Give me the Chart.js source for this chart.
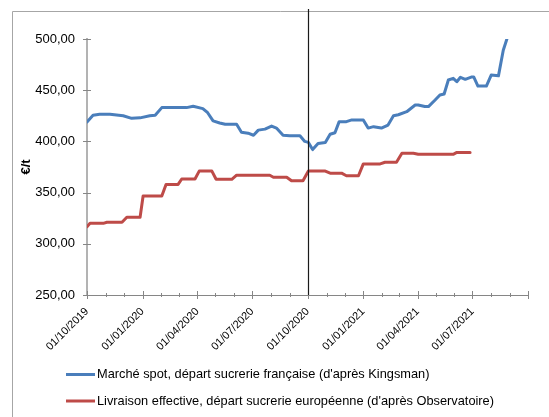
<!DOCTYPE html>
<html><head><meta charset="utf-8">
<script src="https://cdn.jsdelivr.net/npm/chart.js@4"></script>
<style>html,body{margin:0;padding:0;background:#fff}#wrap{width:549px;height:417px;position:relative}</style>
</head><body><div id="wrap"><canvas id="c" width="549" height="417"></canvas></div>
<script>
const seriesNames = [
  "Marché spot, départ sucrerie française (d'après Kingsman)",
  "Livraison effective, départ sucrerie européenne (d'après Observatoire)"
];
const seriesColors = ['#4A7EBB', '#BE4B48'];

const blueDates = ['2019-10-01','2019-10-11','2019-10-22','2019-11-08','2019-11-30','2019-12-14','2019-12-28',
  '2020-01-13','2020-01-22','2020-02-02','2020-03-14','2020-03-25','2020-04-10','2020-04-18','2020-04-27',
  '2020-05-08','2020-05-17','2020-06-05','2020-06-13','2020-06-24','2020-07-03','2020-07-11','2020-07-22',
  '2020-08-02','2020-08-10','2020-08-21','2020-09-01','2020-09-18','2020-09-26','2020-10-02','2020-10-09',
  '2020-10-18','2020-10-30','2020-11-07','2020-11-15','2020-11-22','2020-12-04','2020-12-13','2021-01-01',
  '2021-01-09','2021-01-18','2021-01-31','2021-02-11','2021-02-20','2021-02-28','2021-03-14','2021-03-28',
  '2021-04-02','2021-04-13','2021-04-19','2021-04-30','2021-05-08','2021-05-15','2021-05-22','2021-05-30',
  '2021-06-05','2021-06-11','2021-06-19','2021-06-30','2021-07-03','2021-07-10','2021-07-24','2021-08-01',
  '2021-08-13','2021-08-21','2021-08-27'];
const blueValues = [419,425.5,426.5,426.5,425,422.5,423,
  425,425.5,433,433,434.3,432,428,420,
  418,416.7,416.7,409,408,406,411,412,
  415,413,406,405.5,405.5,400,399,392,
  398,399,407,408.5,419.3,419.3,421,421,
  413,414.4,413,416,425,426,429,435.5,
  435.5,434,434,440.4,445.3,446.3,460,461.6,
  458.3,462.6,460.6,463,463,454,454,464.8,
  464,489,500];

const redDates = ['2019-10-01','2019-10-06','2019-10-28','2019-11-03','2019-11-28','2019-12-06','2019-12-28',
  '2020-01-02','2020-02-02','2020-02-09','2020-02-29','2020-03-06','2020-03-28','2020-04-04','2020-04-25',
  '2020-05-02','2020-05-28','2020-06-05','2020-07-30','2020-08-05','2020-08-27','2020-09-04','2020-09-23',
  '2020-10-02','2020-10-30','2020-11-07','2020-11-26','2020-12-04','2020-12-24','2021-01-01','2021-01-29',
  '2021-02-06','2021-02-25','2021-03-06','2021-03-25','2021-04-02','2021-05-30','2021-06-05','2021-06-27'];
const redValues = [316.7,320,320,321,321,326,326,
  346.7,346.7,358,358,363.3,363.3,371,371,
  363,363,367,367,365,365,361.5,361.5,
  371,371,369,369,366.5,366.5,378,378,
  379.6,379.6,388.4,388.4,387.4,387.4,389.2,389.2];

const xTickLabels = ['01/10/2019','01/01/2020','01/04/2020','01/07/2020','01/10/2020','01/01/2021','01/04/2021','01/07/2021'];
const yTickValues = [250,300,350,400,450,500];
const markerDate = '01/10/2020';
const axisStart = '01/10/2019';
const axisEnd = '01/10/2021';

function isoDay(s){ return Date.parse(s + 'T00:00:00Z'); }
function frDay(s){ const p = s.split('/'); return isoDay(p[2]+'-'+p[1]+'-'+p[0]); }
const t0 = frDay(axisStart);
const dayOf = ms => Math.round((ms - t0) / 86400000);

// monthly ticks from axisStart to axisEnd
const monthTicks = [];
{
  let d = new Date(t0);
  const end = frDay(axisEnd);
  while (d.getTime() <= end) {
    monthTicks.push(dayOf(d.getTime()));
    d = new Date(Date.UTC(d.getUTCFullYear(), d.getUTCMonth() + 1, 1));
  }
}
const majorDays = xTickLabels.map(s => dayOf(frDay(s)));

const blueData = blueDates.map((d, i) => ({x: dayOf(isoDay(d)), y: blueValues[i]}));
const redData = redDates.map((d, i) => ({x: dayOf(isoDay(d)), y: redValues[i]}));

const FONT = "'Liberation Sans', Arial, sans-serif";

const decor = {
  id: 'decor',
  beforeDraw(chart) {
    const ctx = chart.ctx;
    ctx.save();
    ctx.strokeStyle = '#a6a6a6';
    ctx.lineWidth = 1;
    ctx.beginPath();
    ctx.moveTo(12.5, 417); ctx.lineTo(12.5, 11.5); ctx.lineTo(549, 11.5);
    ctx.stroke();
    ctx.restore();
  },
  afterDatasetsDraw(chart) {
    const ctx = chart.ctx, xs = chart.scales.x, ys = chart.scales.y, ca = chart.chartArea;
    ctx.save();
    ctx.strokeStyle = '#868686';
    ctx.lineWidth = 1;
    monthTicks.forEach(v => {
      const px = Math.round(xs.getPixelForValue(v)) + 0.5;
      const major = majorDays.includes(v) || v === monthTicks[monthTicks.length - 1];
      const h = major ? 4 : 2;
      ctx.beginPath(); ctx.moveTo(px, ca.bottom - h); ctx.lineTo(px, ca.bottom + h); ctx.stroke();
    });
    yTickValues.forEach(v => {
      const py = Math.round(ys.getPixelForValue(v)) + 0.5;
      ctx.beginPath(); ctx.moveTo(ca.left - 4, py); ctx.lineTo(ca.left + 4, py); ctx.stroke();
    });
    const mx = Math.round(xs.getPixelForValue(dayOf(frDay(markerDate)))) + 0.5;
    ctx.strokeStyle = '#1a1a1a';
    ctx.lineWidth = 1.2;
    ctx.beginPath(); ctx.moveTo(mx, 9); ctx.lineTo(mx, ca.bottom); ctx.stroke();
    ctx.restore();
  },
  afterDraw(chart) {
    const ctx = chart.ctx;
    ctx.save();
    chart.data.datasets.forEach((ds, i) => {
      const y = 374.5 + i * 26.5;
      ctx.strokeStyle = ds.borderColor;
      ctx.lineWidth = 3;
      ctx.beginPath(); ctx.moveTo(66, y); ctx.lineTo(95, y); ctx.stroke();
      ctx.fillStyle = '#000';
      ctx.font = '12.8px ' + FONT;
      ctx.textBaseline = 'middle';
      ctx.textAlign = 'left';
      ctx.fillText(ds.label, 97, y);
    });
    ctx.restore();
  }
};

new Chart(document.getElementById('c'), {
  type: 'line',
  data: {
    datasets: [
      {label: seriesNames[0], data: blueData, borderColor: seriesColors[0], backgroundColor: seriesColors[0],
       borderWidth: 3, pointRadius: 0, tension: 0, borderJoinStyle: 'round', borderCapStyle: 'round'},
      {label: seriesNames[1], data: redData, borderColor: seriesColors[1], backgroundColor: seriesColors[1],
       borderWidth: 3, pointRadius: 0, tension: 0, borderJoinStyle: 'round', borderCapStyle: 'round'}
    ]
  },
  options: {
    responsive: false,
    animation: false,
    layout: {padding: {top: 39, right: 21, left: 0, bottom: 0}},
    plugins: {legend: {display: false}, tooltip: {enabled: false}},
    scales: {
      x: {
        type: 'linear',
        min: 0,
        max: dayOf(frDay(axisEnd)),
        afterBuildTicks: s => { s.ticks = monthTicks.map(v => ({value: v})); },
        ticks: {
          autoSkip: false, minRotation: 45, maxRotation: 45, padding: 10,
          color: '#000', font: {family: FONT, size: 11},
          callback: v => { const i = majorDays.indexOf(v); return i >= 0 ? xTickLabels[i] : ''; }
        },
        grid: {display: false, drawTicks: false},
        border: {display: true, color: '#868686', width: 1},
        afterFit: s => { s.height = 122; }
      },
      y: {
        min: 250, max: 500,
        afterBuildTicks: s => { s.ticks = yTickValues.map(v => ({value: v})); },
        ticks: {
          padding: 12, color: '#000', font: {family: FONT, size: 13},
          callback: v => v.toFixed(2).replace('.', ',')
        },
        grid: {display: false, drawTicks: false},
        border: {display: true, color: '#b3b3b3', width: 2},
        title: {display: true, text: '€/t', color: '#000', font: {family: FONT, size: 13, weight: 'bold'}, padding: {top: 19, bottom: 0}},
        afterFit: s => { s.width = 87; }
      }
    }
  },
  plugins: [decor]
});
</script>
</body></html>
